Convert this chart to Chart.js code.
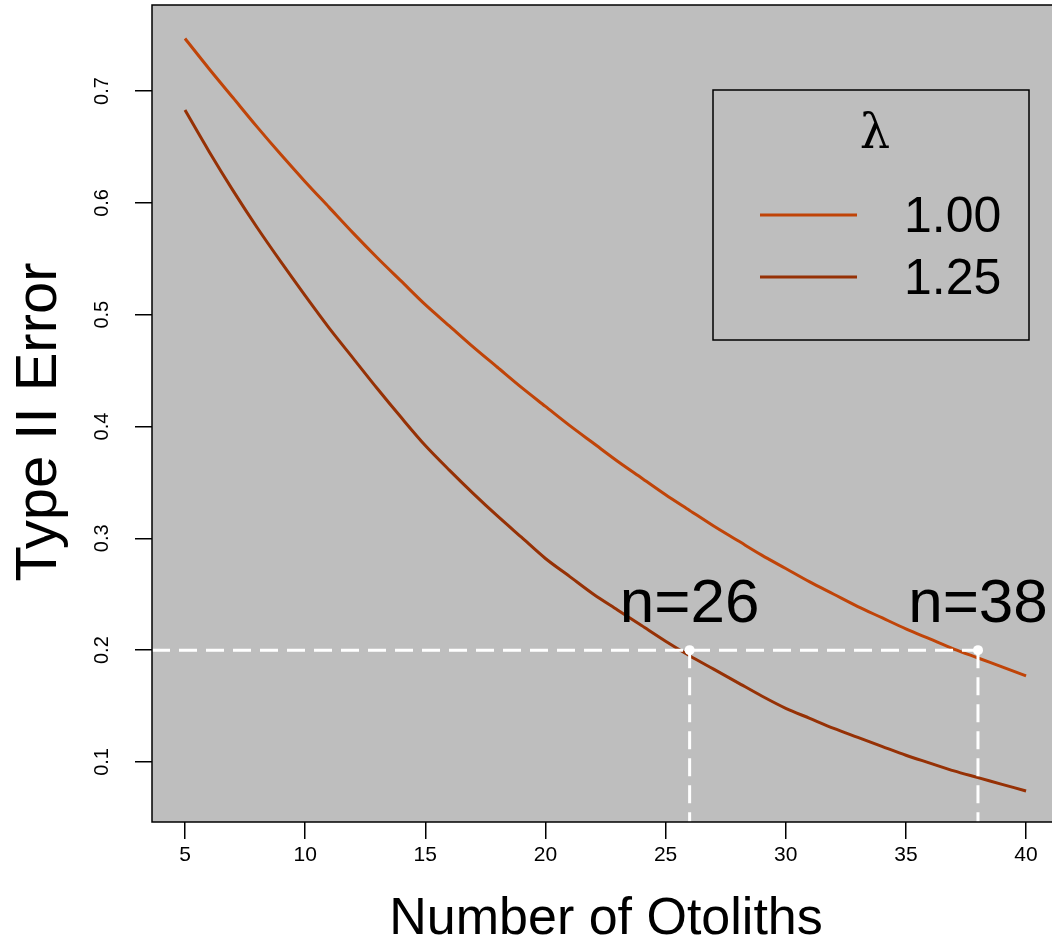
<!DOCTYPE html>
<html>
<head>
<meta charset="utf-8">
<title>Type II Error vs Number of Otoliths</title>
<script src="https://cdn.jsdelivr.net/npm/chart.js@4.4.1/dist/chart.umd.min.js"></script>
<style>
  body { margin: 0; background: #fff; }
  #wrap { width: 1052px; height: 949px; }
</style>
</head>
<body>
<div id="wrap"><canvas id="myChart"></canvas></div>
<script>
// number of otoliths sampled
const otoliths = [5, 6, 7, 8, 9, 10, 11, 12, 13, 14, 15, 16, 17, 18, 19, 20, 21, 22,
  23, 24, 25, 26, 27, 28, 29, 30, 31, 32, 33, 34, 35, 36, 37, 38, 39, 40];

// type II error for lambda = 1.00
const lambda100 = [0.747, 0.720, 0.694, 0.668, 0.643, 0.619, 0.596, 0.573, 0.551, 0.530,
  0.509, 0.490, 0.471, 0.453, 0.435, 0.418, 0.401, 0.385, 0.369, 0.354,
  0.339, 0.325, 0.311, 0.298, 0.285, 0.273, 0.261, 0.250, 0.239, 0.229,
  0.219, 0.210, 0.201, 0.193, 0.185, 0.177];

// type II error for lambda = 1.25
const lambda125 = [0.683, 0.646, 0.611, 0.578, 0.547, 0.517, 0.488, 0.461, 0.434, 0.408,
  0.383, 0.361, 0.340, 0.320, 0.301, 0.282, 0.266, 0.250, 0.236, 0.222,
  0.208, 0.195, 0.183, 0.171, 0.159, 0.148, 0.139, 0.130, 0.122, 0.114,
  0.106, 0.099, 0.092, 0.086, 0.080, 0.074];

const lambdaLabels = ['1.00', '1.25'];
const lineColors = ['#c04408', '#963105'];

const xTicks = [5, 10, 15, 20, 25, 30, 35, 40];
const yTicks = [0.1, 0.2, 0.3, 0.4, 0.5, 0.6, 0.7];

// power target and the sample sizes that reach it
const targetError = 0.2;
const sampleSizes = [26, 38];

const xMin = 3.627, xMax = 41.08;
const yMin = 0.0463, yMax = 0.777;

function pts(ys) {
  return otoliths.map((n, i) => ({ x: n, y: ys[i] }));
}

const datasets = [];
// white markers where the curves hit the target
datasets.push({
  type: 'scatter',
  data: sampleSizes.map(n => ({ x: n, y: targetError })),
  pointRadius: 5, pointBackgroundColor: '#fff', pointBorderWidth: 0,
  order: 0
});
// dashed guide lines
datasets.push({
  data: [{ x: xMin, y: targetError }, { x: sampleSizes[sampleSizes.length - 1], y: targetError }],
  borderColor: '#fff', borderWidth: 3, borderDash: [18, 9], pointRadius: 0, order: 1
});
sampleSizes.forEach(n => {
  datasets.push({
    data: [{ x: n, y: targetError }, { x: n, y: yMin }],
    borderColor: '#fff', borderWidth: 3, borderDash: [18, 9], pointRadius: 0, order: 1
  });
});
// the two error curves
[lambda100, lambda125].forEach((ys, i) => {
  datasets.push({
    label: lambdaLabels[i],
    data: pts(ys),
    borderColor: lineColors[i], borderWidth: 3, pointRadius: 0,
    tension: 0.3, order: 2
  });
});

const plotDecor = {
  id: 'plotDecor',
  beforeDraw(chart) {
    const { ctx, chartArea: a } = chart;
    ctx.save();
    ctx.fillStyle = '#bebebe';
    ctx.fillRect(a.left, a.top, a.right - a.left, a.bottom - a.top);
    ctx.restore();
  },
  afterDraw(chart) {
    const { ctx, chartArea: a } = chart;
    const xs = chart.scales.x, ys = chart.scales.y;
    ctx.save();
    // box (right side runs off the canvas)
    ctx.strokeStyle = '#000';
    ctx.lineWidth = 1.5;
    ctx.beginPath();
    ctx.moveTo(a.right + 2, a.top);
    ctx.lineTo(a.left, a.top);
    ctx.lineTo(a.left, a.bottom);
    ctx.lineTo(a.right + 2, a.bottom);
    ctx.stroke();

    // y tick labels, rotated like base R
    ctx.fillStyle = '#000';
    ctx.font = '20px "Liberation Sans", Arial, sans-serif';
    ctx.textAlign = 'center';
    ctx.textBaseline = 'middle';
    yTicks.forEach(v => {
      ctx.save();
      ctx.translate(102, ys.getPixelForValue(v));
      ctx.rotate(-Math.PI / 2);
      ctx.fillText(v.toFixed(1), 0, 0);
      ctx.restore();
    });

    // axis titles
    ctx.font = '52px "Liberation Sans", Arial, sans-serif';
    ctx.fillText('Number of Otoliths', 606, 920);
    ctx.save();
    ctx.translate(40, 422);
    ctx.rotate(-Math.PI / 2);
    ctx.font = '58px "Liberation Sans", Arial, sans-serif';
    ctx.fillText('Type II Error', 0, 0);
    ctx.restore();

    // sample size labels
    ctx.font = '62px "Liberation Sans", Arial, sans-serif';
    ctx.textBaseline = 'alphabetic';
    sampleSizes.forEach(n => {
      ctx.fillText('n=' + n, xs.getPixelForValue(n), ys.getPixelForValue(targetError) - 28);
    });

    // legend
    const lx = 713, ly = 90, lw = 316, lh = 250;
    ctx.fillStyle = '#bebebe';
    ctx.fillRect(lx, ly, lw, lh);
    ctx.strokeStyle = '#000';
    ctx.lineWidth = 1.5;
    ctx.strokeRect(lx, ly, lw, lh);
    ctx.fillStyle = '#000';
    ctx.textAlign = 'center';
    ctx.textBaseline = 'middle';
    ctx.font = '48px "DejaVu Serif", "Liberation Serif", serif';
    ctx.fillText('\u03bb', 875, 136);
    ctx.textAlign = 'left';
    ctx.font = '50px "Liberation Sans", Arial, sans-serif';
    lambdaLabels.forEach((lab, i) => {
      const y = 215 + i * 62;
      ctx.strokeStyle = lineColors[i];
      ctx.lineWidth = 3;
      ctx.beginPath();
      ctx.moveTo(760, y);
      ctx.lineTo(857, y);
      ctx.stroke();
      ctx.fillText(lab, 904, y + 3);
    });
    ctx.restore();
  }
};

const ctx = document.getElementById('myChart').getContext('2d');
const myChart = new Chart(ctx, {
  type: 'line',
  data: { datasets: datasets },
  options: {
    responsive: true,
    maintainAspectRatio: false,
    animation: false,
    layout: { autoPadding: false, padding: { top: 5, right: 0, left: 0, bottom: 0 } },
    plugins: { legend: { display: false }, tooltip: { enabled: false } },
    scales: {
      x: {
        type: 'linear', min: xMin, max: xMax,
        afterBuildTicks: s => { s.ticks = xTicks.map(v => ({ value: v })); },
        afterFit: s => { s.height = 127; s.paddingLeft = 0; s.paddingRight = 0; },
        grid: { drawOnChartArea: false, drawTicks: true, tickLength: 17, color: '#000', lineWidth: 1.5 },
        border: { display: false },
        ticks: {
          color: '#000', padding: 4, maxRotation: 0,
          font: { size: 21, family: '"Liberation Sans", Arial, sans-serif' }
        }
      },
      y: {
        type: 'linear', min: yMin, max: yMax,
        afterBuildTicks: s => { s.ticks = yTicks.map(v => ({ value: v })); },
        afterFit: s => { s.width = 152; s.paddingTop = 0; s.paddingBottom = 0; },
        grid: { drawOnChartArea: false, drawTicks: true, tickLength: 17, color: '#000', lineWidth: 1.5 },
        border: { display: false },
        ticks: { display: false }
      }
    }
  },
  plugins: [plotDecor]
});
</script>
</body>
</html>
